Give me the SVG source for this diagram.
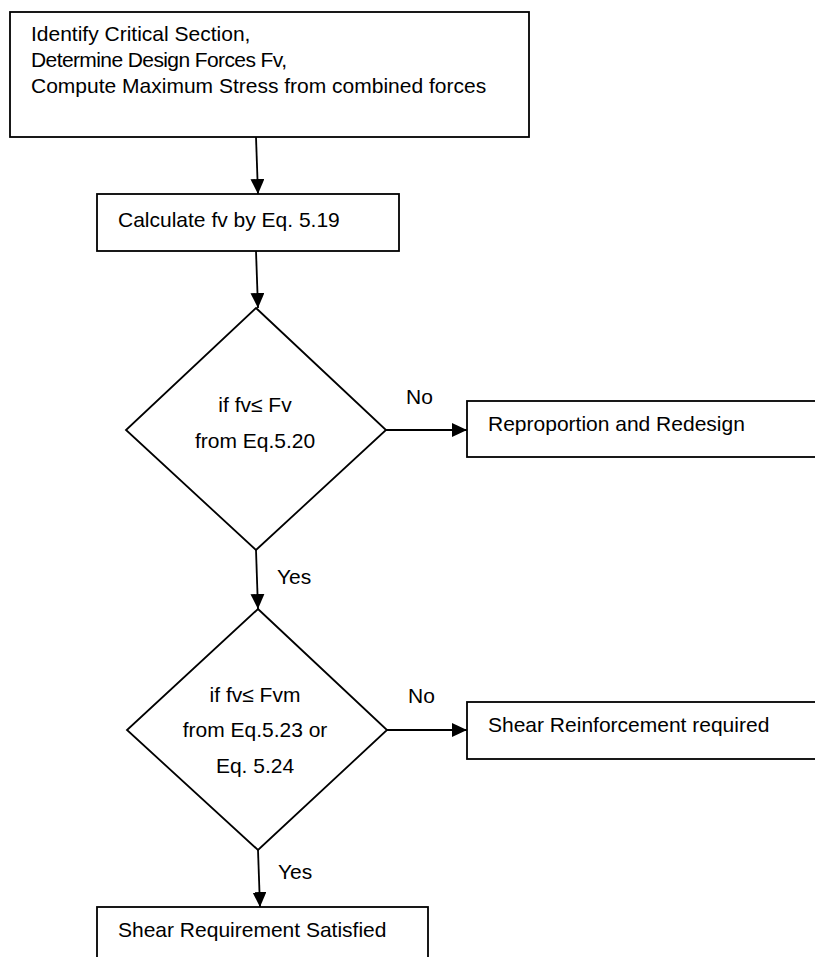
<svg xmlns="http://www.w3.org/2000/svg" width="815" height="957" viewBox="0 0 815 957">
<defs>
<marker id="ah" markerWidth="15" markerHeight="14" refX="15" refY="7" orient="auto" markerUnits="userSpaceOnUse">
<path d="M0,0 L15,7 L0,14 Z" fill="#000"/>
</marker>
<style>
.box{fill:#fff;stroke:#000;stroke-width:1.8}
.t{font-family:"Liberation Sans",Arial,sans-serif;font-size:21px;fill:#000}
.c{text-anchor:middle}
.ln{stroke:#000;stroke-width:1.8;fill:none;marker-end:url(#ah)}
</style>
</defs>
<rect width="815" height="957" fill="#fff"/>
<g id="connectors">
<line class="ln" x1="256" y1="137" x2="258" y2="194"/>
<line class="ln" x1="256" y1="251" x2="258" y2="308"/>
<line class="ln" x1="386" y1="430" x2="467" y2="430"/>
<line class="ln" x1="256" y1="550" x2="258" y2="609"/>
<line class="ln" x1="387" y1="730" x2="467" y2="730"/>
<line class="ln" x1="258" y1="850" x2="260" y2="907"/>
<text class="t" x="406" y="404">No</text>
<text class="t" x="277" y="584">Yes</text>
<text class="t" x="408" y="703">No</text>
<text class="t" x="278" y="879">Yes</text>
</g>
<g id="n1">
<rect class="box" x="10" y="12" width="519" height="125"/>
<text class="t" x="31" y="41">Identify Critical Section,</text>
<text class="t" x="31" y="67" textLength="256" lengthAdjust="spacing">Determine Design Forces Fv,</text>
<text class="t" x="31" y="93">Compute Maximum Stress from combined forces</text>
</g>
<g id="n2">
<rect class="box" x="97" y="194" width="302" height="57"/>
<text class="t" x="118" y="227">Calculate fv by Eq. 5.19</text>
</g>
<g id="d1">
<path class="box" d="M256,308 L386,430 L256,550 L126,430 Z"/>
<text class="t c" x="255" y="412">if fv≤ Fv</text>
<text class="t c" x="255" y="448">from Eq.5.20</text>
</g>
<g id="n3">
<rect class="box" x="467" y="401" width="360" height="56"/>
<text class="t" x="488" y="431">Reproportion and Redesign</text>
</g>
<g id="d2">
<path class="box" d="M258,609 L387,730 L258,850 L127,730 Z"/>
<text class="t c" x="255" y="702">if fv≤ Fvm</text>
<text class="t c" x="255" y="737">from Eq.5.23 or</text>
<text class="t c" x="255" y="773">Eq. 5.24</text>
</g>
<g id="n4">
<rect class="box" x="467" y="702" width="360" height="57"/>
<text class="t" x="488" y="732">Shear Reinforcement required</text>
</g>
<g id="n5">
<rect class="box" x="97" y="907" width="331" height="70"/>
<text class="t" x="118" y="937">Shear Requirement Satisfied</text>
</g>
</svg>
